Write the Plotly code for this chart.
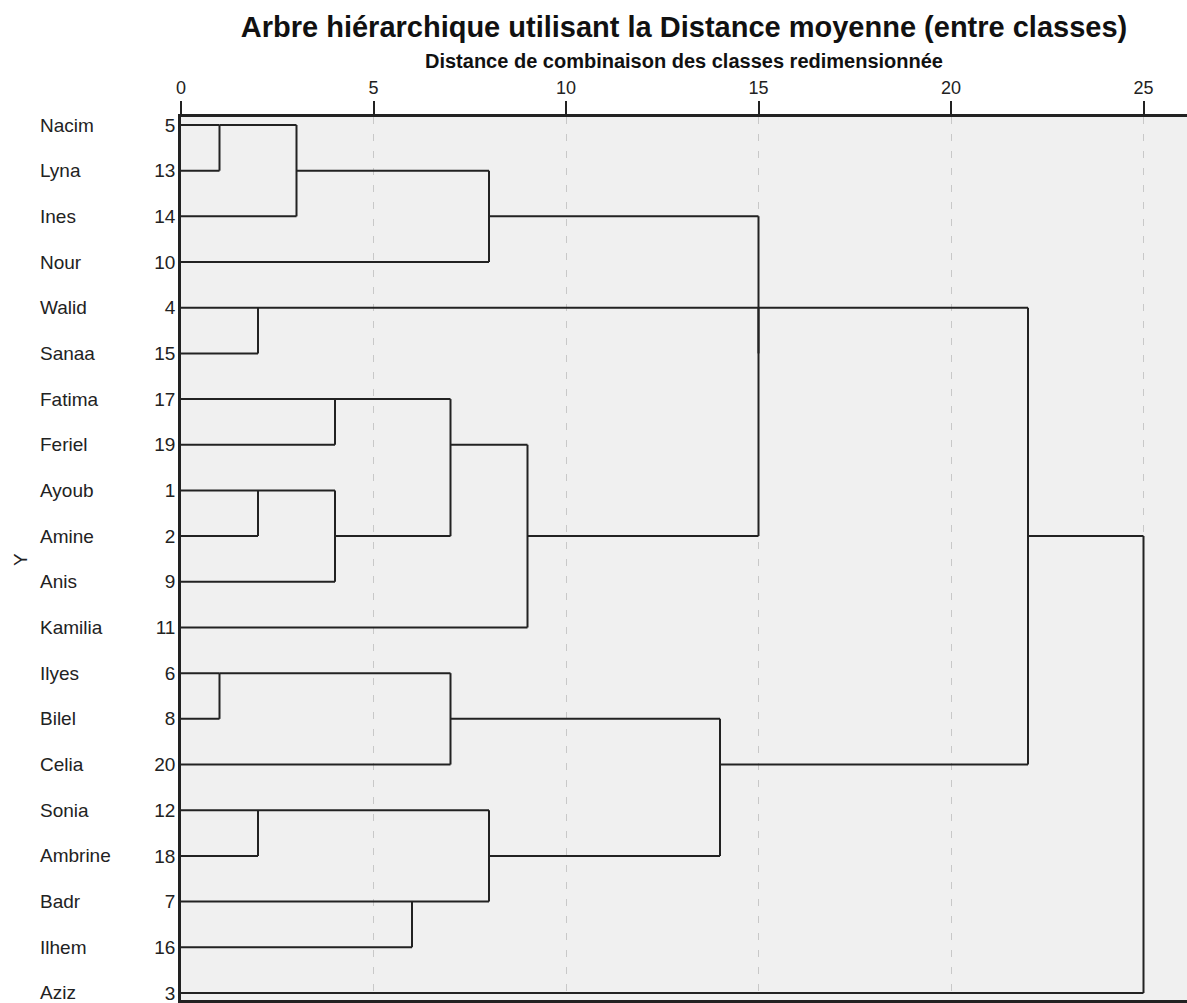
import math
import plotly.graph_objects as go

# ---- data ----
names = ["Nacim", "Lyna", "Ines", "Nour", "Walid", "Sanaa", "Fatima", "Feriel",
         "Ayoub", "Amine", "Anis", "Kamilia", "Ilyes", "Bilel", "Celia", "Sonia",
         "Ambrine", "Badr", "Ilhem", "Aziz"]
case_ids = [5, 13, 14, 10, 4, 15, 17, 19, 1, 2, 9, 11, 6, 8, 20, 12, 18, 7, 16, 3]

# merge steps: (cluster A, cluster B, rescaled distance); new clusters are c1, c2, ...
merge_a = ["Nacim", "Ilyes", "Walid", "Ayoub", "Sonia", "c1", "Fatima", "c4", "Badr",
           "c7", "c2", "c6", "c5", "c10", "c11", "c12", "c3", "c17", "c18"]
merge_b = ["Lyna", "Bilel", "Sanaa", "Amine", "Ambrine", "Ines", "Feriel", "Anis", "Ilhem",
           "c8", "Celia", "Nour", "c9", "Kamilia", "c13", "c14", "c16", "c15", "Aziz"]
merge_d = [1, 1, 2, 2, 2, 3, 4, 4, 6, 7, 7, 8, 8, 9, 14, 15, 15, 22, 25]

x_ticks = [0, 5, 10, 15, 20, 25]

title_text = "Arbre hiérarchique utilisant la Distance moyenne (entre classes)"
xaxis_title = "Distance de combinaison des classes redimensionnée"

# ---- build dendrogram segments ----
clusters = {n: {"rep": i, "x": 0} for i, n in enumerate(names)}
xs, ys = [], []
for k, (a, b, d) in enumerate(zip(merge_a, merge_b, merge_d), start=1):
    A, B = clusters[a], clusters[b]
    for C in (A, B):
        xs += [C["x"], d, None]
        ys += [C["rep"], C["rep"], None]
    xs += [d, d, None]
    ys += [A["rep"], B["rep"], None]
    clusters[f"c{k}"] = {"rep": math.floor((A["rep"] + B["rep"]) / 2), "x": d}

W, H = 1187, 1003
L, T, B_ = 181, 117, 3
px_per_unit = 38.5
xmax = (W - L) / px_per_unit
plot_h = H - T - B_
row_px = 45.68

def py(pix):
    # pixel y from top -> paper y
    return (H - B_ - pix) / plot_h

FONT = "Liberation Sans, Arial, sans-serif"

fig = go.Figure()
fig.add_trace(go.Scatter(x=xs, y=ys, mode="lines",
                         line=dict(color="#222222", width=2),
                         hoverinfo="skip", showlegend=False))

annotations = []
for i, n in enumerate(names):
    annotations.append(dict(text=n, x=(38 - L) / (W - L), xref="paper", xanchor="left",
                            y=i, yref="y", yanchor="middle", showarrow=False,
                            font=dict(family=FONT, size=19, color="#222")))
annotations.append(dict(text=xaxis_title, x=0.5, xref="paper", xanchor="center",
                        y=py(61), yref="paper", yanchor="middle", showarrow=False,
                        font=dict(family=FONT, size=20, color="#111", weight="bold")))
annotations.append(dict(text="Y", x=(20 - L) / (W - L), xref="paper", xanchor="center",
                        y=py(560), yref="paper", yanchor="middle", showarrow=False, textangle=-90,
                        font=dict(family=FONT, size=19, color="#222")))

fig.update_layout(
    width=W, height=H,
    margin=dict(l=L, r=0, t=T, b=B_, pad=0),
    paper_bgcolor="white", plot_bgcolor="#f0f0f0",
    title=dict(text=title_text, x=0.5, xref="paper", xanchor="center",
               y=1 - 27 / H, yref="container", yanchor="middle",
               font=dict(family=FONT, size=29, color="#111", weight="bold")),
    annotations=annotations,
    xaxis=dict(range=[0, xmax], side="top", tickvals=x_ticks, ticks="outside",
               ticklen=13, tickwidth=1.5, tickcolor="#222",
               tickfont=dict(family=FONT, size=18, color="#222"),
               showline=True, linewidth=2.5, linecolor="#222222", mirror=True,
               showgrid=True, gridcolor="#c8c8c8", griddash="7px,10px", gridwidth=1,
               zeroline=False, automargin=False),
    yaxis=dict(range=[(H - B_ - T - (125 - T)) / row_px, -(125 - T) / row_px],
               tickvals=list(range(len(names))),
               ticktext=[str(c) for c in case_ids], ticks="",
               tickfont=dict(family=FONT, size=19, color="#222"),
               ticklabelstandoff=-1, ticklabeloverflow="allow",
               showline=True, linewidth=2.5, linecolor="#222222",
               showgrid=False, zeroline=False, automargin=False),
)

fig.write_html("out.html", config={"displayModeBar": False},
               post_script="document.body.style.margin='0';document.body.style.overflow='hidden';")
